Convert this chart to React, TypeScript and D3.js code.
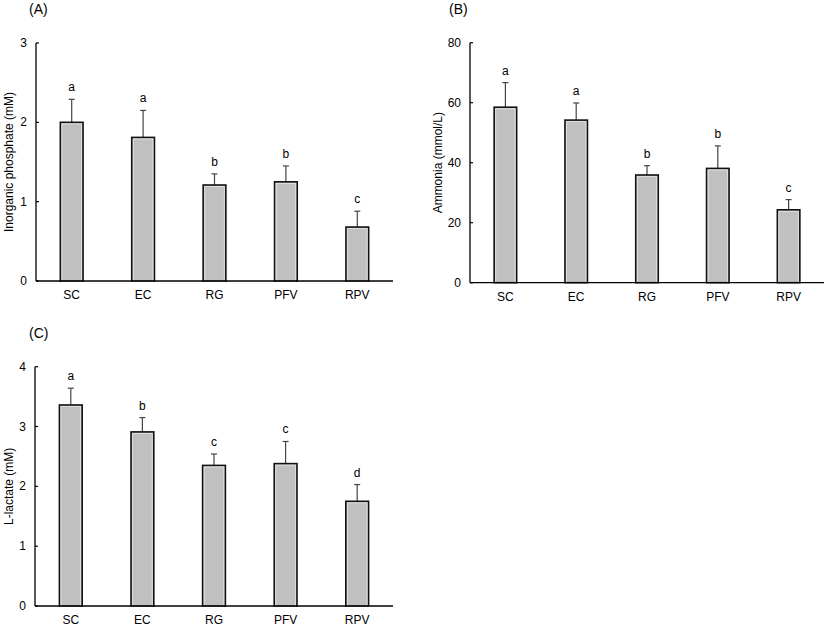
import React from "react";
import * as d3 from "d3";

const categories = ["SC", "EC", "RG", "PFV", "RPV"];

const phosphateMean = [2.0, 1.81, 1.21, 1.25, 0.68];
const phosphateErr = [0.29, 0.34, 0.14, 0.2, 0.2];
const phosphateLetters = ["a", "a", "b", "b", "c"];
const phosphateTicks = [0, 1, 2, 3];

const ammoniaMean = [58.5, 54.2, 35.9, 38.1, 24.3];
const ammoniaErr = [8.2, 5.7, 3.1, 7.5, 3.4];
const ammoniaLetters = ["a", "a", "b", "b", "c"];
const ammoniaTicks = [0, 20, 40, 60, 80];

const lactateMean = [3.36, 2.91, 2.35, 2.38, 1.75];
const lactateErr = [0.28, 0.24, 0.19, 0.37, 0.28];
const lactateLetters = ["a", "b", "c", "c", "d"];
const lactateTicks = [0, 1, 2, 3, 4];

const FONT = "Liberation Sans, Arial, sans-serif";

type PanelProps = {
  tag: string;
  tagX: number;
  tagY: number;
  yLabel: string;
  yLabelX: number;
  x0: number;
  x1: number;
  yTop: number;
  yBottom: number;
  yMax: number;
  ticks: number[];
  means: number[];
  errs: number[];
  letters: string[];
};

function Panel(p: PanelProps) {
  const x = d3.scaleBand<string>().domain(categories).range([p.x0, p.x1]).padding(0);
  const y = d3.scaleLinear().domain([0, p.yMax]).range([p.yBottom, p.yTop]);
  const bw = x.step() * 0.318;
  return (
    <g>
      <text x={p.tagX} y={p.tagY} fontSize={14} fontFamily={FONT} fill="#000">
        {p.tag}
      </text>
      <text
        transform={`translate(${p.yLabelX},${(p.yTop + p.yBottom) / 2}) rotate(-90)`}
        textAnchor="middle"
        fontSize={12}
        fontFamily={FONT}
        fill="#000"
      >
        {p.yLabel}
      </text>
      {categories.map((c, i) => {
        const cx = (x(c) as number) + x.bandwidth() / 2;
        const top = y(p.means[i]);
        const et = y(p.means[i] + p.errs[i]);
        return (
          <g key={c}>
            <line x1={cx} x2={cx} y1={top} y2={et} stroke="#444" strokeWidth={1.2} />
            <line x1={cx - 3} x2={cx + 3} y1={et} y2={et} stroke="#444" strokeWidth={1.2} />
            <rect
              x={cx - bw / 2}
              y={top}
              width={bw}
              height={p.yBottom - top}
              fill="#c0c0c0"
              stroke="#111"
              strokeWidth={1.6}
            />
            <rect
              x={cx - bw / 2 + 1.6}
              y={top + 1.6}
              width={bw - 3.2}
              height={Math.max(0, p.yBottom - top - 1.6)}
              fill="none"
              stroke="#e4e4e4"
              strokeWidth={0.8}
            />
            <text
              x={cx}
              y={et - 8}
              textAnchor="middle"
              fontSize={12}
              fontFamily={FONT}
              fill="#000"
            >
              {p.letters[i]}
            </text>
            <text
              x={cx}
              y={p.yBottom + 18}
              textAnchor="middle"
              fontSize={12}
              fontFamily={FONT}
              fill="#000"
            >
              {c}
            </text>
          </g>
        );
      })}
      {p.ticks.map((t) => (
        <g key={t}>
          <line x1={p.x0} x2={p.x0 + 3} y1={y(t)} y2={y(t)} stroke="#000" strokeWidth={1.2} />
          <text
            x={p.x0 - 9}
            y={y(t) + 4}
            textAnchor="end"
            fontSize={12}
            fontFamily={FONT}
            fill="#000"
          >
            {t}
          </text>
        </g>
      ))}
      <line x1={p.x0} x2={p.x0} y1={p.yTop} y2={p.yBottom} stroke="#000" strokeWidth={1.3} />
      <line x1={p.x0} x2={p.x1} y1={p.yBottom} y2={p.yBottom} stroke="#000" strokeWidth={1.3} />
    </g>
  );
}

export default function App() {
  return (
    <div>
      <style>{`body{margin:0}`}</style>
      <svg width={827} height={626} style={{ display: "block", background: "#fff" }}>
        <Panel
          tag="(A)"
          tagX={29}
          tagY={14}
          yLabel="Inorganic phosphate (mM)"
          yLabelX={13}
          x0={36}
          x1={393}
          yTop={43}
          yBottom={281}
          yMax={3}
          ticks={phosphateTicks}
          means={phosphateMean}
          errs={phosphateErr}
          letters={phosphateLetters}
        />
        <Panel
          tag="(B)"
          tagX={449}
          tagY={14}
          yLabel="Ammonia (mmol/L)"
          yLabelX={442}
          x0={470}
          x1={824}
          yTop={42.7}
          yBottom={282.7}
          yMax={80}
          ticks={ammoniaTicks}
          means={ammoniaMean}
          errs={ammoniaErr}
          letters={ammoniaLetters}
        />
        <Panel
          tag="(C)"
          tagX={29}
          tagY={338}
          yLabel="L-lactate (mM)"
          yLabelX={13}
          x0={35}
          x1={393}
          yTop={366.7}
          yBottom={606}
          yMax={4}
          ticks={lactateTicks}
          means={lactateMean}
          errs={lactateErr}
          letters={lactateLetters}
        />
      </svg>
    </div>
  );
}
